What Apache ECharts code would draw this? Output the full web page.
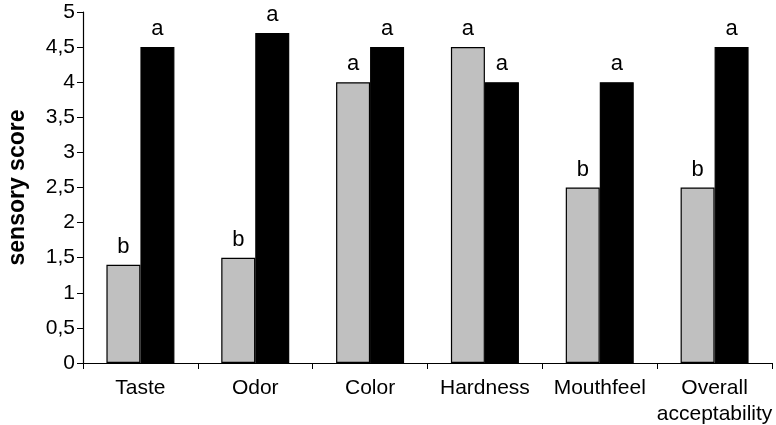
<!DOCTYPE html>
<html>
<head>
<meta charset="utf-8">
<script src="https://cdn.jsdelivr.net/npm/echarts@6/dist/echarts.min.js"></script>
<style>
  html, body { margin: 0; padding: 0; background: #fff; }
  #chart { width: 776px; height: 425px; }
</style>
</head>
<body>
<div id="chart"></div>
<script>
// data
let categories = ['Taste', 'Odor', 'Color', 'Hardness', 'Mouthfeel', 'Overall\nacceptability']
let greyValues = [1.4, 1.5, 4, 4.5, 2.5, 2.5]
let blackValues = [4.5, 4.7, 4.5, 4, 4, 4.5]
let greyLetters = ['b', 'b', 'a', 'a', 'b', 'b']
let blackLetters = ['a', 'a', 'a', 'a', 'a', 'a']

let font = 'Liberation Sans, Arial, sans-serif'

function letterLabel(letters) {
  return {
    show: true,
    position: 'top',
    distance: 7,
    fontFamily: font,
    fontSize: 22,
    color: '#000',
    formatter: p => letters[p.dataIndex]
  }
}

let chart = echarts.init(document.getElementById('chart'), null, { renderer: 'canvas' })

let option = {
  animation: false,
  backgroundColor: '#fff',
  grid: { left: 83, right: 4, top: 12, bottom: 62, containLabel: false, outerBoundsMode: 'none' },
  xAxis: {
    type: 'category',
    data: categories,
    axisLine: { lineStyle: { color: '#000', width: 1.2 } },
    axisTick: { show: true, length: 6, lineStyle: { color: '#000' } },
    axisLabel: { fontFamily: font, fontSize: 21, color: '#000', margin: 12, lineHeight: 26, interval: 0 }
  },
  yAxis: {
    type: 'value',
    min: 0,
    max: 5,
    interval: 0.5,
    name: 'sensory score',
    nameLocation: 'middle',
    nameGap: 54,
    nameTextStyle: { fontFamily: font, fontSize: 23, fontWeight: 'bold', color: '#000' },
    splitLine: { show: false },
    axisLine: { show: true, lineStyle: { color: '#000', width: 1.2 } },
    axisTick: { show: true, length: 6, lineStyle: { color: '#000' } },
    axisLabel: {
      fontFamily: font, fontSize: 21, color: '#000', margin: 8,
      formatter: v => String(v).replace('.', ',')
    }
  },
  series: [
    {
      type: 'bar',
      data: greyValues,
      barWidth: 34,
      barGap: '0%',
      itemStyle: { color: '#c0c0c0', borderColor: '#000', borderWidth: 1.2 },
      label: letterLabel(greyLetters)
    },
    {
      type: 'bar',
      data: blackValues,
      barWidth: 34,
      barGap: '0%',
      itemStyle: { color: '#000', borderColor: '#000', borderWidth: 1.2 },
      label: letterLabel(blackLetters)
    }
  ]
}

chart.setOption(option)
</script>
</body>
</html>
